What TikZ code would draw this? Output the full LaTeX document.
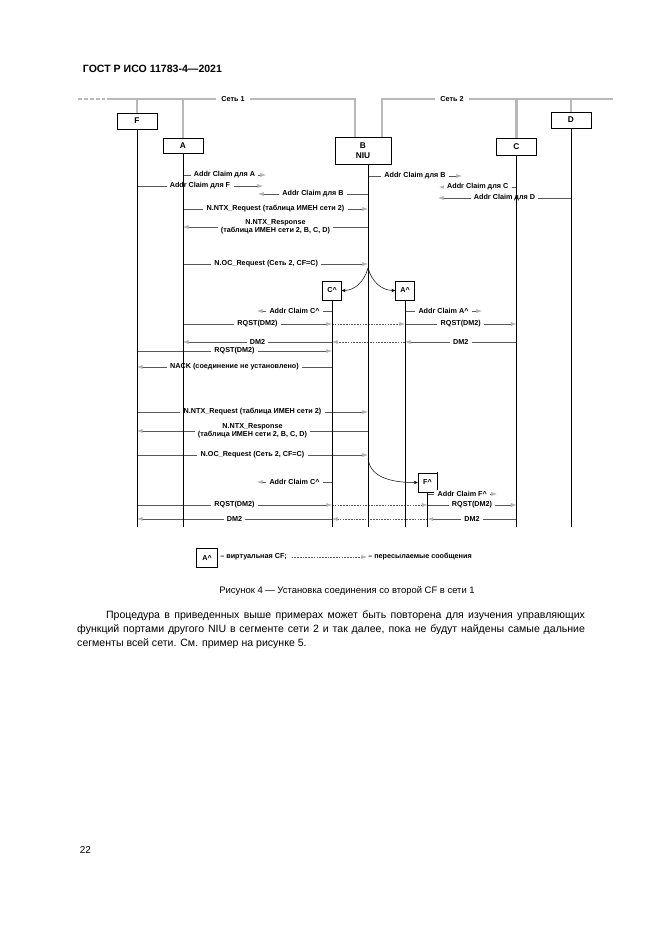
\documentclass[tikz,border=0pt]{standalone}
\usepackage{fontspec}
\setmainfont{Liberation Sans}
\usetikzlibrary{arrows.meta}
\newcommand\lblfont{\bfseries\fontsize{6.5}{7}\selectfont}

\begin{document}
\begin{tikzpicture}[x=0.9pt, y=-0.9pt,
  segline/.style={line width=2.6pt, gray!55},
  unit/.style={draw, fill=white, font=\bfseries\fontsize{7.5}{9}\selectfont, minimum width=36pt, minimum height=14pt, inner sep=0pt},
  virt/.style={draw, fill=white, font=\lblfont, minimum size=17pt, inner sep=0pt},
  msg/.style={draw=black!65, line width=0.4pt, -{Latex[length=5pt,width=3.5pt,color=gray!60]}},
  fwd/.style={msg, dash pattern=on 1.5pt off 1pt},
  hop/.style={line width=0.45pt, -{Stealth[length=3.5pt,width=3pt]}},
  lbl/.style={fill=white, inner ysep=1pt, inner xsep=3pt, font=\lblfont}]
\useasboundingbox (0,0) rectangle (661,935);
% page head
\node[anchor=base west, font=\bfseries\fontsize{9.5}{11}\selectfont] (head) at (79,72) {ГОСТ Р ИСО 11783-4—2021};

% units on the two segments
\node[unit] (F) at (137,121) {F};
\node[unit] (A) at (183,145.5) {A};
\node[unit, minimum width=50pt, minimum height=24pt, align=center] (B) at (363,150.5) {B\\NIU};
\node[unit, minimum height=15pt] (C) at (516.5,146.5) {C};
\node[unit] (D) at (571,120) {D};
\coordinate (Bl) at (368,164);
\coordinate (bot) at (0,527);

% networks
\coordinate (n1a) at (78,99);
\coordinate (n1b) at (110,99);
\coordinate (n1c) at (355,99);
\coordinate (n2a) at (382,99);
\coordinate (n2b) at (613,99);
\draw[segline, dash pattern=on 3.5pt off 1.8pt] (n1a) -- (n1b);
\draw[segline] (n1b) -- (n1c) -- (n1c |- B.north);
\draw[segline] (n2a |- B.north) -- (n2a) -- (n2b);
\foreach \n in {F,A,C,D}
  \draw[segline] (\n.north |- n1a) -- (\n.north);
\node[lbl, inner xsep=5pt] (net1) at (233,99) {Сеть 1};
\node[lbl, inner xsep=5pt] (net2) at (452,99) {Сеть 2};

% address claims
\coordinate (tA) at (266,175);
\coordinate (tF) at (263,186);
\coordinate (tB1) at (258,194);
\coordinate (tB2) at (462,176);
\coordinate (tC) at (439,187);
\coordinate (tD) at (438,198);
\draw[msg] (A |- tA) -- node[lbl]{Addr Claim для A} (tA);
\draw[msg] (F |- tF) -- node[lbl]{Addr Claim для F} (tF);
\draw[msg] (Bl |- tB1) -- node[lbl]{Addr Claim для B} (tB1);
\draw[msg] (Bl |- tB2) -- node[lbl]{Addr Claim для B} (tB2);
\draw[msg] (C |- tC) -- node[lbl]{Addr Claim для C} (tC);
\draw[msg] (D |- tD) -- node[lbl]{Addr Claim для D} (tD);

% first connection from A
\draw[msg] (A |- 0,209) -- node[lbl]{N.NTX\_Request (таблица ИМЕН сети 2)} (Bl |- 0,209);
\draw[msg] (Bl |- 0,227) -- node[lbl, align=center]{N.NTX\_Response\\(таблица ИМЕН сети 2, B, C, D)} (A |- 0,227);
\draw[msg] (A |- 0,264) -- node[lbl, pos=0.45]{N.OC\_Request (Сеть 2, CF=C)} (Bl |- 0,264);

\node[virt] (Cv) at (332,290.5) {C\textasciicircum};
\node[virt] (Av) at (405,290.5) {A\textasciicircum};
\draw[hop] (Bl |- 0,268) to[out=-105,in=0] (Cv.east);
\draw[hop] (Bl |- 0,268) to[out=-75,in=180] (Av.west);

\coordinate (tCv) at (257,311);
\coordinate (tAv) at (482,311);
\draw[msg] (Cv |- tCv) -- node[lbl]{Addr Claim C\textasciicircum} (tCv);
\draw[msg] (Av |- tAv) -- node[lbl]{Addr Claim A\textasciicircum} (tAv);

\draw[msg] (A |- 0,324) -- node[lbl]{RQST(DM2)} (Cv |- 0,324);
\draw[fwd] (Cv |- 0,324) -- (Av |- 0,324);
\draw[msg] (Av |- 0,324) -- node[lbl]{RQST(DM2)} (C |- 0,324);
\draw[msg] (C |- 0,342) -- node[lbl]{DM2} (Av |- 0,342);
\draw[fwd] (Av |- 0,342) -- (Cv |- 0,342);
\draw[msg] (Cv |- 0,342) -- node[lbl]{DM2} (A |- 0,342);

% F tries the same
\draw[msg] (F |- 0,351) -- node[lbl]{RQST(DM2)} (Cv |- 0,351);
\draw[msg] (Cv |- 0,367) -- node[lbl]{NACK (соединение не установлено)} (F |- 0,367);

\draw[msg] (F |- 0,412) -- node[lbl]{N.NTX\_Request (таблица ИМЕН сети 2)} (Bl |- 0,412);
\draw[msg] (Bl |- 0,431) -- node[lbl, align=center]{N.NTX\_Response\\(таблица ИМЕН сети 2, B, C, D)} (F |- 0,431);
\draw[msg] (F |- 0,455) -- node[lbl]{N.OC\_Request (Сеть 2, CF=C)} (Bl |- 0,455);

\node[virt] (Fv) at (427.5,482.5) {F\textasciicircum};
\draw[line width=0.9pt] ([xshift=0.6pt,yshift=1pt]Fv.north east) -- ([xshift=0.6pt]Fv.south east);
\draw[hop] (Bl |- 0,458) to[out=-85,in=180] (Fv.west);

\coordinate (tCv2) at (257,482);
\coordinate (tFv) at (497,494);
\draw[msg] (Cv |- tCv2) -- node[lbl]{Addr Claim C\textasciicircum} (tCv2);
\draw[msg] (Fv |- tFv) -- node[lbl]{Addr Claim F\textasciicircum} (tFv);

\draw[msg] (F |- 0,505) -- node[lbl]{RQST(DM2)} (Cv |- 0,505);
\draw[fwd] (Cv |- 0,505) -- (Fv |- 0,505);
\draw[msg] (Fv |- 0,505) -- node[lbl]{RQST(DM2)} (C |- 0,505);
\draw[msg] (C |- 0,519) -- node[lbl]{DM2} (Fv |- 0,519);
\draw[fwd] (Fv |- 0,519) -- (Cv |- 0,519);
\draw[msg] (Cv |- 0,519) -- node[lbl]{DM2} (F |- 0,519);

% lifelines
\foreach \n in {F,A,C,D,Cv,Av,Fv}
  \draw[line width=0.45pt] (\n.south) -- (\n.south |- bot);
\draw[line width=0.45pt] (Bl) -- (Bl |- bot);

% legend
\node[virt, minimum width=19pt, minimum height=17pt] (lgA) at (207,558) {A\textasciicircum};
\node[anchor=west, font=\lblfont, inner sep=1pt] (lg1) at (219,557) {– виртуальная CF;};
\node[anchor=west, font=\lblfont, inner sep=1pt] (lg2) at (367,557) {– пересылаемые сообщения};
\draw[fwd, shorten <=3pt] (lg1.east) -- (lg2.west);

% caption and text
\node[anchor=base, font=\fontsize{8.5}{10}\selectfont] (cap) at (347,593) {Рисунок 4 — Установка соединения со второй CF в сети 1};
\node[anchor=base west, text width=457pt, align=justify, inner sep=0pt, font=\fontsize{9.5}{13}\selectfont] (par) at (77,618)
  {\hspace*{26pt}Процедура в приведенных выше примерах может быть повторена для изучения управляющих\linebreak
   функций портами другого NIU в сегменте сети 2 и так далее, пока не будут найдены самые дальние\linebreak
   сегменты всей сети. См. пример на рисунке 5.};
\node[anchor=base west, font=\fontsize{9}{10}\selectfont] (pg) at (76,853) {22};
\end{tikzpicture}
\end{document}
